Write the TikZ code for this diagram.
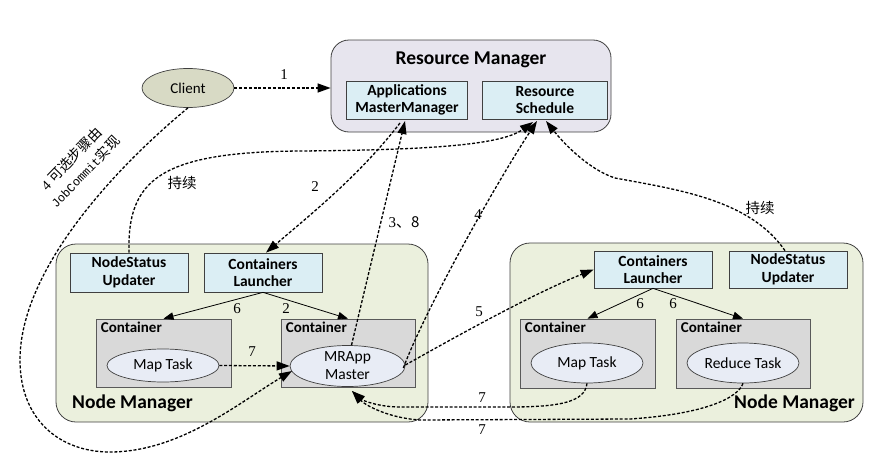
\documentclass[tikz,border=0pt]{standalone}
\usepackage{fontspec}
\setmainfont{Carlito}
\newfontfamily\numfont{Liberation Serif}
\newfontfamily\monofont{Liberation Mono}
\newfontfamily\cjk{Noto Sans CJK SC}
\usetikzlibrary{arrows.meta,shapes.geometric}
\definecolor{rmfill}{HTML}{E7E5EE}
\definecolor{bluefill}{HTML}{DBEEF4}
\definecolor{nmfill}{HTML}{EBF0DD}
\definecolor{contfill}{HTML}{D9D9D9}
\definecolor{ellfill}{HTML}{E8ECF5}
\definecolor{clientfill}{HTML}{D8DAC5}
\definecolor{edge}{HTML}{404040}
\begin{document}
\begin{tikzpicture}[x=1pt,y=-1pt,
  rmbox/.style={draw=edge, fill=rmfill, rounded corners=18pt, line width=0.8pt, inner sep=0},
  nmbox/.style={draw=edge, fill=nmfill, rounded corners=20pt, line width=0.8pt, inner sep=0},
  bluebox/.style={draw=edge, fill=bluefill, line width=0.7pt, align=center, inner sep=0,
    font=\bfseries\fontsize{15.5}{17.5}\selectfont, minimum height=38pt},
  contbox/.style={draw=gray!70!black, fill=contfill, line width=0.7pt, inner sep=0},
  conttitle/.style={anchor=north west, inner sep=0, font=\bfseries\fontsize{15}{16}\selectfont},
  task/.style={ellipse, draw=edge, fill=ellfill, line width=0.7pt, inner sep=0, align=center,
    font=\fontsize{15.5}{18}\selectfont},
  title/.style={font=\bfseries\fontsize{19.5}{21}\selectfont, inner sep=0},
  numlab/.style={font=\numfont\fontsize{15}{17}\selectfont, inner sep=1pt},
  cjklab/.style={font=\cjk\fontsize{14.5}{17}\selectfont, inner sep=1pt},
  dl/.style={line width=1.3pt, dash pattern=on 3pt off 1.8pt},
  dla/.style={dl, -{Triangle[length=13pt,width=9pt]}},
  sla/.style={line width=0.8pt, -{Triangle[length=10pt,width=7.5pt]}}
]
\useasboundingbox (0,0) rectangle (881,466);

% Resource manager
\node[rmbox, minimum width=280pt, minimum height=92pt] (rm) at (471,86) {};
\node[title] (rmt) at (471,60) {Resource Manager};
\node[bluebox, minimum width=121pt] (amm) at (407,100) {Applications\\MasterManager};
\node[bluebox, minimum width=125pt] (rs) at (545,100) {Resource\\Schedule};

% Client
\node[ellipse, draw=edge, fill=clientfill, line width=0.7pt, minimum width=92pt, minimum height=39pt,
  inner sep=0, font=\fontsize{15}{17}\selectfont] (client) at (188,88) {Client};

% Left node manager
\node[nmbox, minimum width=372pt, minimum height=178pt] (nml) at (242,333) {};
\node[bluebox, minimum width=118pt, minimum height=39pt] (nsul) at (129,272.5) {NodeStatus\\Updater};
\node[bluebox, minimum width=118pt, minimum height=39pt] (cll) at (263,272.5) {Containers\\Launcher};
\node[contbox, minimum width=135pt, minimum height=68pt] (contl1) at (163.5,353) {};
\node[contbox, minimum width=134pt, minimum height=68pt] (contl2) at (348,353) {};
\node[conttitle] (ctl1) at ([shift={(5,3)}]contl1.north west) {Container};
\node[conttitle] (ctl2) at ([shift={(5,3)}]contl2.north west) {Container};
\node[task, minimum width=112pt, minimum height=33pt] (mapl) at (163,365.5) {Map Task};
\node[task, minimum width=115pt, minimum height=41pt] (mrapp) at (347.5,366) {MRApp\\Master};
\node[title, anchor=west] (nmlt) at (72,403) {Node Manager};

% Right node manager
\node[nmbox, minimum width=353pt, minimum height=179pt] (nmr) at (686.5,332.5) {};
\node[bluebox, minimum width=118pt, minimum height=37pt] (clr) at (653,269.5) {Containers\\Launcher};
\node[bluebox, minimum width=118pt, minimum height=37pt] (nsur) at (788,269.5) {NodeStatus\\Updater};
\node[contbox, minimum width=135pt, minimum height=69pt] (contr1) at (587.5,353.5) {};
\node[contbox, minimum width=134pt, minimum height=69pt] (contr2) at (743,353.5) {};
\node[conttitle] (ctr1) at ([shift={(5,3)}]contr1.north west) {Container};
\node[conttitle] (ctr2) at ([shift={(5,3)}]contr2.north west) {Container};
\node[task, minimum width=112pt, minimum height=40pt] (mapr) at (587,363) {Map Task};
\node[task, minimum width=112pt, minimum height=40pt] (redr) at (743,363) {Reduce Task};
\node[title, anchor=east] (nmrt) at (855,403) {Node Manager};

% coordinates
\coordinate (ammb) at (405,121);
\coordinate (rsb1) at (533,122);
\coordinate (rsb2) at (546,121);
\coordinate (rsb3) at (537,121);

% 1
\draw[dla] (client.east) -- (client.east -| rm.west);
\node[numlab] (l1) at (284,75) {1};

% 2
\draw[dla] (400,123) .. controls (360,175) and (310,215) .. ([xshift=3pt]cll.north);
\node[numlab] (l2) at (315,187) {2};

% 3,8
\draw[dla] (mrapp.north) ++(4,0) -- (ammb);
\node[font=\numfont\fontsize{15}{17}\selectfont, inner sep=0] (l38) at (404,222) {3\cjk{、}8};

% 4
\draw[dla] (mrapp.east) ++(-2,2) .. controls (425,310) and (495,185) .. (rsb3);
\node[numlab] (l4) at (478,215) {4};

% 5
\draw[dla] (mrapp.east) ++(0,-1) .. controls (450,340) and (530,295) .. (clr.west);
\node[numlab] (l5) at (479,312) {5};

% persistent (left)
\draw[dla] (nsul.north) .. controls (127,180) and (160,152) .. (300,151) .. controls (420,150) and (500,146) .. (rsb1);
\node[cjklab] (p1) at (182,183) {持续};
% persistent (right)
\draw[dla] ([xshift=-3pt]nsur.north) .. controls (750,200) and (680,190) .. (615,178) .. controls (590,170) and (565,145) .. (rsb2);
\node[cjklab] (p2) at (760,208) {持续};

% 4 optional (client -> MRApp)
\draw[dla] (client.south) .. controls (115,168) and (20,270) .. (20,360) .. controls (20,420) and (60,452) .. (110,452) .. controls (180,452) and (240,402) .. (292,371);
\node[font=\fontsize{14}{19}\selectfont, rotate=46, align=center, inner sep=0] (l4opt) at (78,165)
  {\numfont 4 \cjk 可选步骤由\\\monofont\fontsize{12}{19}\selectfont JobCommit\cjk\fontsize{14}{19}\selectfont 实现};

% 6 / 2 solid (left)
\draw[sla] (cll.south) -- (contl1.north);
\draw[sla] (cll.south) -- (contl2.north);
\node[numlab] (l6a) at (237,309) {6};
\node[numlab] (l2b) at (286,309) {2};
% 6 solid (right)
\draw[sla] (clr.south) -- (contr1.north);
\draw[sla] (clr.south) -- (contr2.north);
\node[numlab] (l6b) at (640,304) {6};
\node[numlab] (l6c) at (673,304) {6};

% 7 (left map -> mrapp)
\draw[dla] (mapl.east) -- (mrapp.west);
\node[numlab] (l7a) at (252,352) {7};

% 7 (right map -> mrapp)
\coordinate (mrb) at (352,391);
\draw[dla] (mapr.south) .. controls (585,402) and (560,407) .. (510,407) -- (400,407) .. controls (378,407) and (362,400) .. (mrb);
\node[numlab] (l7b) at (482,398) {7};
\draw[dla] (redr.south) .. controls (738,398) and (705,414) .. (630,419) -- (420,420) .. controls (388,418) and (365,405) .. (mrb);
\node[numlab] (l7c) at (482,430) {7};
\end{tikzpicture}
\end{document}
